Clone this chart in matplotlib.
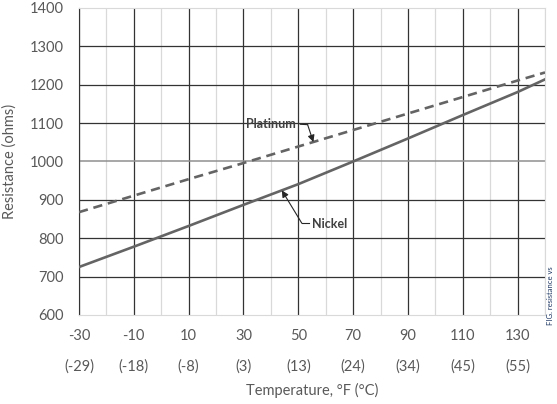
import matplotlib
matplotlib.use("Agg")
import matplotlib.pyplot as plt
import numpy as np

plt.rcParams['font.family'] = ['Lato', 'DejaVu Sans']
plt.rcParams['axes.unicode_minus'] = False

# temperatures in deg F and the matching deg C labels
temp_f = [-30, -10, 10, 30, 50, 70, 90, 110, 130, 140]
tick_f = [-30, -10, 10, 30, 50, 70, 90, 110, 130]
tick_c = ['(-29)', '(-18)', '(-8)', '(3)', '(13)', '(24)', '(34)', '(45)', '(55)']
y_ticks = [600, 700, 800, 900, 1000, 1100, 1200, 1300, 1400]

# resistance (ohms)
nickel = [725, 778, 832, 887, 941, 1000, 1060, 1121, 1181, 1214]
platinum = [868, 911, 954, 996, 1039, 1082, 1125, 1168, 1211, 1232]

txt = '#595959'
dark = '#333333'
light = '#d9d9d9'
line_col = '#646464'

fig = plt.figure(figsize=(5.57, 4.04), dpi=100)
ax = fig.add_axes([0.1418, 0.2203, 0.8367, 0.7599])

ax.plot(temp_f, nickel, color=line_col, lw=1.9, zorder=3)
ax.plot(temp_f, platinum, color=line_col, lw=1.9, dashes=(3.5, 2.2), zorder=3)

ax.set_xlim(-30, 140)
ax.set_ylim(600, 1400)
ax.set_xticks(tick_f)
ax.set_xticks(np.arange(-20, 141, 20), minor=True)
ax.set_yticks(y_ticks)
ax.tick_params(axis='both', which='both', length=0, colors=txt, labelsize=10.5)
ax.tick_params(axis='x', pad=10)
ax.tick_params(axis='y', pad=11)

ax.grid(True, which='major', axis='both', color=dark, lw=0.9, zorder=1)
ax.grid(True, which='minor', axis='x', color=light, lw=0.9, zorder=0)
ax.set_axisbelow(True)

ygl = ax.yaxis.get_gridlines()
ygl[0].set_visible(False)
ygl[-1].set_visible(False)
ygl[4].set_color('#8f8f8f')
ygl[4].set_linewidth(1.1)

for s in ['top', 'right', 'bottom']:
    ax.spines[s].set_color(light)
ax.spines['left'].set_color(dark)

# celsius row of labels under the fahrenheit ticks
for f, c in zip(tick_f, tick_c):
    ax.text(f, -0.169, c, transform=ax.get_xaxis_transform(), ha='center',
            va='center', fontsize=10.5, color=txt)

ax.set_xlabel('Temperature, °F (°C)', color=txt, fontsize=10.5, labelpad=29)
ax.set_ylabel('Resistance (ohms)', color=txt, fontsize=10.5, labelpad=9)

# callouts
arrow = dict(arrowstyle='-|>', color='#262626', lw=0.8, mutation_scale=10,
             shrinkA=0, shrinkB=0)

tip_p = 55.5
ax.text(40.1, 1097, 'Platinum', ha='center', va='center', fontsize=9,
        fontweight='bold', color='#404040')
ax.plot([50.7, 53.4], [1097, 1096], color='#262626', lw=0.8)
ax.annotate('', xy=(tip_p, np.interp(tip_p, temp_f, platinum)),
            xytext=(53.4, 1096), arrowprops=arrow)

tip_n = 44.0
ax.text(55.0, 836, 'Nickel', ha='left', va='center', fontsize=9,
        fontweight='bold', color='#404040')
ax.plot([51.3, 53.8], [839, 839], color='#262626', lw=0.8)
ax.annotate('', xy=(tip_n, np.interp(tip_n, temp_f, nickel)),
            xytext=(51.3, 839), arrowprops=arrow)

fig.text(0.989, 0.195, 'FIG. resistance vs', rotation=90, ha='center',
         va='bottom', fontsize=5.5, color='#1f3864')

fig.savefig('out.png', dpi=100)
